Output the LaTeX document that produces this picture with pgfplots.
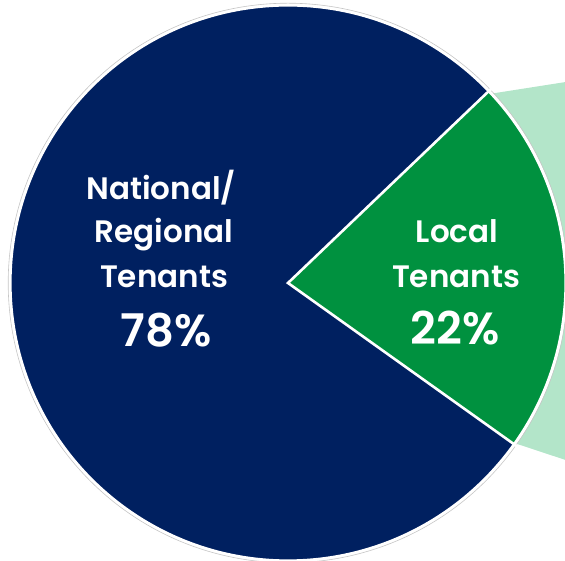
\documentclass[border=0pt]{standalone}
\usepackage{pgfplots}
\pgfplotsset{compat=1.18}
\usepackage{fontspec}
\setmainfont{Poppins}[BoldFont={Poppins SemiBold}]
\definecolor{navy}{HTML}{002060}
\definecolor{grn}{HTML}{00913F}
\definecolor{lgrn}{HTML}{B3E5C9}
\begin{document}
\begin{tikzpicture}
% shares (percent)
\def\national{78}
\def\local{22}
\pgfmathsetmacro{\sA}{-35.5}
\pgfmathsetmacro{\sB}{\sA+\local*3.6}
\pgfmathsetmacro{\sC}{\sB+\national*3.6}
\begin{axis}[
  width=565bp, height=561bp, scale only axis,
  xmin=0, xmax=565, ymin=0, ymax=561,
  hide axis, clip=true,
]
% callout trapezoid
\fill[lgrn] (axis cs:470,464) -- (axis cs:620,487.5) -- (axis cs:620,83) -- (axis cs:490,126) -- cycle;
% outer ring
\fill[white] (axis cs:288,278) circle[radius=279.5bp];
\draw[gray!45, line width=0.6bp] (axis cs:288,278) circle[radius=279.8bp];
% slices
\fill[grn] (axis cs:288,278) -- ++(\sA:277bp) arc[start angle=\sA, end angle=\sB, radius=277bp] -- cycle;
\fill[navy] (axis cs:288,278) -- ++(\sB:277bp) arc[start angle=\sB, end angle=\sC, radius=277bp] -- cycle;
\draw[white, line width=2.6bp, line join=miter] (axis cs:288,278) ++(\sA:285bp) -- (axis cs:288,278) -- ++(\sB:285bp);
\draw[white, line width=2.2bp] (axis cs:288,278) circle[radius=277.5bp];
% labels
\begin{scope}[every node/.style={text=white, anchor=base, inner sep=0pt, font=\bfseries\fontsize{31bp}{31bp}\selectfont}]
\node at (axis cs:161,361) {National/};
\node at (axis cs:164,318) {Regional};
\node at (axis cs:164,273) {Tenants};
\node[font=\bfseries\fontsize{45bp}{45bp}\selectfont] at (axis cs:166,214) {78\%};
\node at (axis cs:457,318) {Local};
\node at (axis cs:456,273) {Tenants};
\node[font=\bfseries\fontsize{45bp}{45bp}\selectfont] at (axis cs:455,216) {22\%};
\end{scope}
\end{axis}
\pgfresetboundingbox
\path (current axis.south west) rectangle (current axis.north east);
\end{tikzpicture}
\end{document}
